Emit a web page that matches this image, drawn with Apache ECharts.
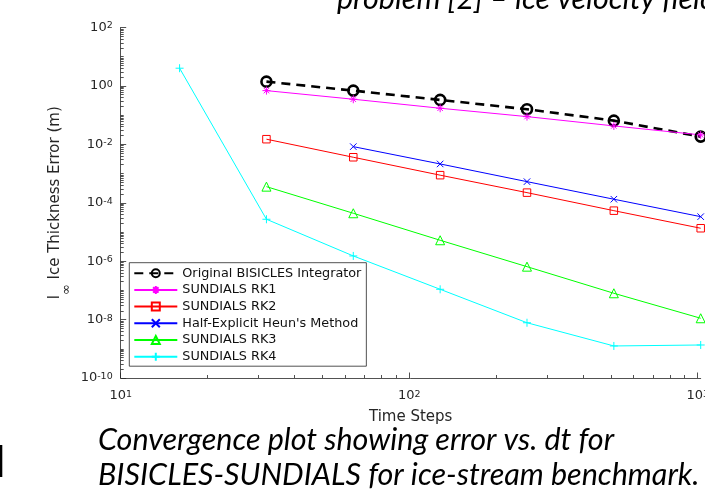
<!DOCTYPE html>
<html>
<head>
<meta charset="utf-8">
<script src="https://cdn.jsdelivr.net/npm/echarts@6.0.0/dist/echarts.min.js"></script>
<style>
html,body{margin:0;padding:0;background:#fff;}
#chart{width:705px;height:492px;}
</style>
</head>
<body>
<div id="chart"></div>
<script>
// ---------- data ----------
const stepsMain = [32, 64, 128, 256, 512, 1024];
const stepsHeun = [64, 128, 256, 512, 1024];
const stepsRK4  = [16, 32, 64, 128, 256, 512, 1024];

const errOriginal = [1.40, 0.69, 0.332, 0.159, 0.0648, 0.0184];
const errRK1      = [0.69, 0.35, 0.172, 0.0889, 0.0427, 0.021];
const errRK2      = [0.0150, 0.00361, 0.00088, 0.000222, 0.0000536, 0.0000134];
const errHeun     = [0.00834, 0.00213, 0.000528, 0.000132, 0.0000334];
const errRK3      = [3.56e-4, 4.37e-5, 5.2e-6, 6.48e-7, 7.96e-8, 1.11e-8];
const errRK4      = [4.04, 2.72e-5, 1.51e-6, 1.09e-7, 7.8e-9, 1.25e-9, 1.35e-9];

const seriesNames = ['Original BISICLES Integrator', 'SUNDIALS RK1', 'SUNDIALS RK2',
                     "Half-Explicit Heun's Method", 'SUNDIALS RK3', 'SUNDIALS RK4'];

const xAxisMin = 10, xAxisMax = 1024;
const yAxisMin = 1e-10, yAxisMax = 1e2;
const xMajorTickExps = [1, 2, 3];
const yMajorTickExps = [-10, -8, -6, -4, -2, 0, 2];

const xAxisTitle = 'Time Steps';
const yAxisTitleSymbol = 'l';
const yAxisTitleSub = '∞';
const yAxisTitleRest = ' Ice Thickness Error (m)';
const titleText = 'problem [2] – ice velocity field';
const captionLines = ['Convergence plot showing error vs. dt for',
                      'BISICLES-SUNDIALS for ice-stream benchmark.'];

// ---------- helpers ----------
const AX = '#262626';
const FONT = 'DejaVu Sans';
const xMaxExp = Math.log10(xAxisMax), xMinExp = Math.log10(xAxisMin);
const yMaxExp = Math.log10(yAxisMax), yMinExp = Math.log10(yAxisMin);

function minorExps(lo, hi, withDecades, majors) {
  const out = [];
  for (let d = Math.floor(lo); d <= Math.ceil(hi); d++) {
    if (withDecades && majors.indexOf(d) < 0 && d >= lo && d <= hi) out.push(d);
    for (let k = 2; k <= 9; k++) {
      const e = d + Math.log10(k);
      if (e > lo && e < hi) out.push(e);
    }
  }
  return out;
}
const xMinorTickExps = minorExps(xMinExp, xMaxExp, false, xMajorTickExps);
const yMinorTickExps = minorExps(yMinExp, yMaxExp, true, yMajorTickExps);

function powLabel(v) {
  const e = Math.round(Math.log10(v));
  if (Math.abs(Math.log10(v) - e) > 1e-6) return '';
  return '{b|10}{p|' + e + '}';
}
const labelRich = {
  b: {fontSize: 13, fontFamily: FONT, color: AX, lineHeight: 13, padding: [2, 0, 2, 0], verticalAlign: 'middle'},
  p: {fontSize: 9.5, fontFamily: FONT, color: AX, lineHeight: 10, verticalAlign: 'top'}
};

const P_AST = 'path://M5 0L5 10M0 5L10 5M1.6 1.6L8.4 8.4M8.4 1.6L1.6 8.4';
const P_X = 'path://M0 0L10 10M10 0L0 10';
const P_PLUS = 'path://M5 0L5 10M0 5L10 5';

function mkSeries(name, xs, ys, color, symbol, size, lw, dash, bw) {
  return {
    name: name, type: 'line',
    xAxisIndex: 0, yAxisIndex: 0,
    data: xs.map((x, i) => [x, ys[i]]),
    symbol: symbol, symbolSize: size, showAllSymbol: true,
    lineStyle: {color: color, width: lw, type: dash || 'solid'},
    itemStyle: {color: 'none', borderColor: color, borderWidth: bw || 1},
    emphasis: {disabled: true},
    animation: false,
    clip: false
  };
}

function tickAxis(dim, min, max, values, len) {
  return {
    type: 'value', min: min, max: max,
    position: dim === 'x' ? 'bottom' : 'left', offset: 0,
    axisLine: {show: false, onZero: false},
    axisLabel: {show: false},
    splitLine: {show: false},
    axisTick: {show: true, inside: true, length: len, customValues: values,
               lineStyle: {color: AX, width: 0.8}}
  };
}

const captionFont = {fontFamily: 'Lato', fontStyle: 'italic', fontSize: 30.5, fill: '#000',
                     align: 'left', verticalAlign: 'middle'};

const chart = echarts.init(document.getElementById('chart'), null, {renderer: 'canvas'});
chart.setOption({
  backgroundColor: '#fff',
  animation: false,
  grid: {left: 120.7, right: 4.3, top: 27.5, bottom: 114, containLabel: false,
         outerBoundsMode: 'none'},
  xAxis: [
    {
      type: 'log', logBase: 10, min: xAxisMin, max: xAxisMax,
      axisLine: {onZero: false, lineStyle: {color: AX, width: 0.8}},
      axisTick: {show: false},
      splitLine: {show: false},
      axisLabel: {formatter: powLabel, rich: labelRich, margin: 11.5, hideOverlap: false,
                  showMaxLabel: true},
      name: xAxisTitle, nameLocation: 'middle', nameGap: 32, nameMoveOverlap: false,
      nameTextStyle: {fontFamily: FONT, fontSize: 15, color: AX}
    },
    tickAxis('x', xMinExp, xMaxExp, xMajorTickExps, 5.5),
    tickAxis('x', xMinExp, xMaxExp, xMinorTickExps, 3)
  ],
  yAxis: [
    {
      type: 'log', logBase: 100, min: yAxisMin, max: yAxisMax,
      axisLine: {onZero: false, lineStyle: {color: AX, width: 0.8}},
      axisTick: {show: false},
      splitLine: {show: false},
      axisLabel: {formatter: powLabel, rich: labelRich, margin: 8},
      name: '{a|' + yAxisTitleSymbol + '}{s|' + yAxisTitleSub + '}{a|' + yAxisTitleRest + '}',
      nameLocation: 'middle', nameGap: 47.5, nameMoveOverlap: false,
      nameTextStyle: {
        rich: {
          a: {fontFamily: FONT, fontSize: 15, color: AX, lineHeight: 15, verticalAlign: 'top'},
          s: {fontFamily: FONT, fontSize: 13, color: AX, lineHeight: 26, verticalAlign: 'bottom'}
        }
      }
    },
    tickAxis('y', yMinExp, yMaxExp, yMajorTickExps, 5.5),
    tickAxis('y', yMinExp, yMaxExp, yMinorTickExps, 3)
  ],
  legend: {
    orient: 'vertical', left: 129.3, top: 262.7,
    padding: [3, 5, 2, 4],
    itemWidth: 43, itemHeight: 10, itemGap: 1.7,
    backgroundColor: '#fff', borderColor: AX, borderWidth: 0.8, borderRadius: 0,
    selectedMode: false,
    textStyle: {fontFamily: FONT, fontSize: 12.8, color: '#111', lineHeight: 15},
    data: seriesNames
  },
  series: [
    mkSeries(seriesNames[0], stepsMain, errOriginal, '#000000', 'circle', 10, 2.6, [9, 6], 2.6),
    mkSeries(seriesNames[1], stepsMain, errRK1, '#ff00ff', P_AST, 8, 1),
    mkSeries(seriesNames[2], stepsMain, errRK2, '#ff0000', 'rect', 7.5, 1),
    mkSeries(seriesNames[3], stepsHeun, errHeun, '#0000ff', P_X, 6.5, 1),
    mkSeries(seriesNames[4], stepsMain, errRK3, '#00ff00', 'triangle', 9, 1),
    mkSeries(seriesNames[5], stepsRK4, errRK4, '#00ffff', P_PLUS, 8, 1)
  ],
  graphic: [
    {type: 'text', x: 337, y: -1, silent: true,
     style: Object.assign({text: titleText}, captionFont)},
    {type: 'text', x: 98, y: 440, silent: true,
     style: Object.assign({text: captionLines[0]}, captionFont)},
    {type: 'text', x: 98, y: 475, silent: true,
     style: Object.assign({text: captionLines[1]}, captionFont)},
    {type: 'rect', silent: true, shape: {x: 0, y: 445, width: 2.3, height: 32},
     style: {fill: '#000'}}
  ]
});
</script>
</body>
</html>
